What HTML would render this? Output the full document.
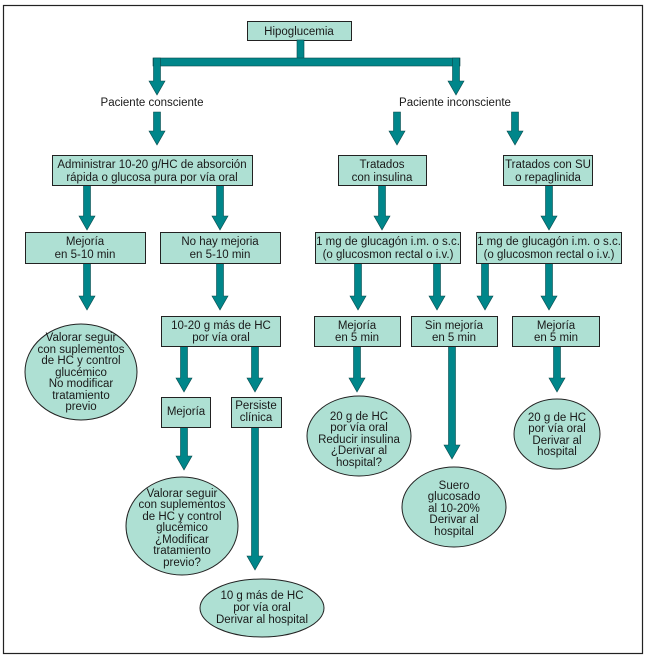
<!DOCTYPE html>
<html><head><meta charset="utf-8"><style>
html,body{margin:0;padding:0;background:#fff}
svg{display:block}
text{font-family:"Liberation Sans",sans-serif;font-size:11.5px;fill:#1a1a1a;text-anchor:middle}
.b{fill:#aee0d3;stroke:#222;stroke-width:1}
.a{fill:#00868a;stroke:#0a4a4c;stroke-width:0.6}
</style></head><body>
<svg width="652" height="657" viewBox="0 0 652 657" xmlns="http://www.w3.org/2000/svg">
<rect x="3.5" y="5.5" width="639" height="648" fill="#fff" stroke="#222" stroke-width="1.2"/>
<rect class="b" x="247.5" y="21.5" width="104" height="19"/>
<text x="299" y="35">Hipoglucemia</text>
<rect class="a" x="297" y="40" width="7" height="19"/>
<rect class="a" x="153" y="58" width="307" height="8"/>
<g class="a">
<path d="M153.5 58H160.5V81H165L157 95L149 81H153.5Z"/>
<path d="M452.5 58H459.5V81H464L456 95L448 81H452.5Z"/>
<path d="M153.5 112H160.5V131H165L157 145L149 131H153.5Z"/>
<path d="M393.5 112H400.5V131H405L397 145L389 131H393.5Z"/>
<path d="M511.5 112H518.5V131H523L515 145L507 131H511.5Z"/>
<path d="M83.5 185H90.5V216H95L87 230L79 216H83.5Z"/>
<path d="M216.5 185H223.5V216H228L220 230L212 216H216.5Z"/>
<path d="M378.5 185H385.5V216H390L382 230L374 216H378.5Z"/>
<path d="M545.5 185H552.5V216H557L549 230L541 216H545.5Z"/>
<path d="M83.5 263H90.5V296H95L87 310L79 296H83.5Z"/>
<path d="M216.5 263H223.5V296H228L220 310L212 296H216.5Z"/>
<path d="M354.5 263H361.5V296H366L358 310L350 296H354.5Z"/>
<path d="M433.5 263H440.5V296H445L437 310L429 296H433.5Z"/>
<path d="M481.5 263H488.5V296H493L485 310L477 296H481.5Z"/>
<path d="M545.5 263H552.5V296H557L549 310L541 296H545.5Z"/>
<path d="M180.5 346H187.5V378H192L184 392L176 378H180.5Z"/>
<path d="M251.5 346H258.5V378H263L255 392L247 378H251.5Z"/>
<path d="M353.5 346H360.5V378H365L357 392L349 378H353.5Z"/>
<path d="M448.5 346H455.5V445H460L452 459L444 445H448.5Z"/>
<path d="M553.5 346H560.5V378H565L557 392L549 378H553.5Z"/>
<path d="M180.5 427H187.5V456H192L184 470L176 456H180.5Z"/>
<path d="M251.5 427H258.5V556H263L255 570L247 556H251.5Z"/>
</g>
<text x="152" y="106">Paciente consciente</text>
<text x="455" y="106">Paciente inconsciente</text>
<rect class="b" x="52.5" y="155.5" width="200" height="30"/>
<text x="152" y="168">Administrar 10-20 g/HC de absorción</text>
<text x="152" y="181">rápida o glucosa pura por vía oral</text>
<rect class="b" x="338.5" y="155.5" width="88" height="30"/>
<text x="382" y="168">Tratados</text>
<text x="382" y="181">con insulina</text>
<rect class="b" x="503.5" y="155.5" width="89" height="30"/>
<text x="548" y="168">Tratados con SU</text>
<text x="548" y="181">o repaglinida</text>
<rect class="b" x="25.5" y="232.5" width="120" height="31"/>
<text x="85" y="245">Mejoría</text>
<text x="85" y="258">en 5-10 min</text>
<rect class="b" x="160.5" y="232.5" width="120" height="31"/>
<text x="220" y="245">No hay mejoria</text>
<text x="220" y="258">en 5-10 min</text>
<rect class="b" x="315.5" y="232.5" width="145" height="31"/>
<text x="388" y="245">1 mg de glucagón i.m. o s.c.</text>
<text x="388" y="258">(o glucosmon rectal o i.v.)</text>
<rect class="b" x="476.5" y="232.5" width="145" height="31"/>
<text x="549" y="245">1 mg de glucagón i.m. o s.c.</text>
<text x="549" y="258">(o glucosmon rectal o i.v.)</text>
<ellipse class="b" cx="81" cy="372" rx="56" ry="48"/>
<text x="81" y="341">Valorar seguir</text>
<text x="81" y="353">con suplementos</text>
<text x="81" y="364">de HC y control</text>
<text x="81" y="376">glucémico</text>
<text x="81" y="387">No modificar</text>
<text x="81" y="399">tratamiento</text>
<text x="81" y="410">previo</text>
<rect class="b" x="161.5" y="316.5" width="119" height="30"/>
<text x="221" y="329">10-20 g más de HC</text>
<text x="221" y="341">por vía oral</text>
<rect class="b" x="314.5" y="316.5" width="86" height="30"/>
<text x="357" y="329">Mejoría</text>
<text x="357" y="341">en 5 min</text>
<rect class="b" x="411.5" y="316.5" width="86" height="30"/>
<text x="454" y="329">Sin mejoría</text>
<text x="454" y="341">en 5 min</text>
<rect class="b" x="512.5" y="316.5" width="87" height="30"/>
<text x="556" y="329">Mejoría</text>
<text x="556" y="341">en 5 min</text>
<rect class="b" x="161.5" y="397.5" width="49" height="30"/>
<text x="186" y="415">Mejoría</text>
<rect class="b" x="231.5" y="397.5" width="50" height="30"/>
<text x="256" y="409">Persiste</text>
<text x="256" y="421">clínica</text>
<ellipse class="b" cx="359" cy="436" rx="52" ry="40"/>
<text x="359" y="420">20 g de HC</text>
<text x="359" y="431">por vía oral</text>
<text x="359" y="443">Reducir insulina</text>
<text x="359" y="454">¿Derivar al</text>
<text x="359" y="466">hospital?</text>
<ellipse class="b" cx="557" cy="434" rx="43" ry="35"/>
<text x="557" y="421">20 g de HC</text>
<text x="557" y="432">por vía oral</text>
<text x="557" y="444">Derivar al</text>
<text x="557" y="455">hospital</text>
<ellipse class="b" cx="182" cy="526" rx="56" ry="49"/>
<text x="182" y="497">Valorar seguir</text>
<text x="182" y="508">con suplementos</text>
<text x="182" y="520">de HC y control</text>
<text x="182" y="531">glucémico</text>
<text x="182" y="543">¿Modificar</text>
<text x="182" y="554">tratamiento</text>
<text x="182" y="566">previo?</text>
<ellipse class="b" cx="454" cy="507" rx="52" ry="40"/>
<text x="454" y="489">Suero</text>
<text x="454" y="500">glucosado</text>
<text x="454" y="512">al 10-20%</text>
<text x="454" y="523">Derivar al</text>
<text x="454" y="535">hospital</text>
<ellipse class="b" cx="262" cy="608" rx="62" ry="29"/>
<text x="262" y="599">10 g más de HC</text>
<text x="262" y="611">por vía oral</text>
<text x="262" y="623">Derivar al hospital</text>
</svg>
</body></html>
